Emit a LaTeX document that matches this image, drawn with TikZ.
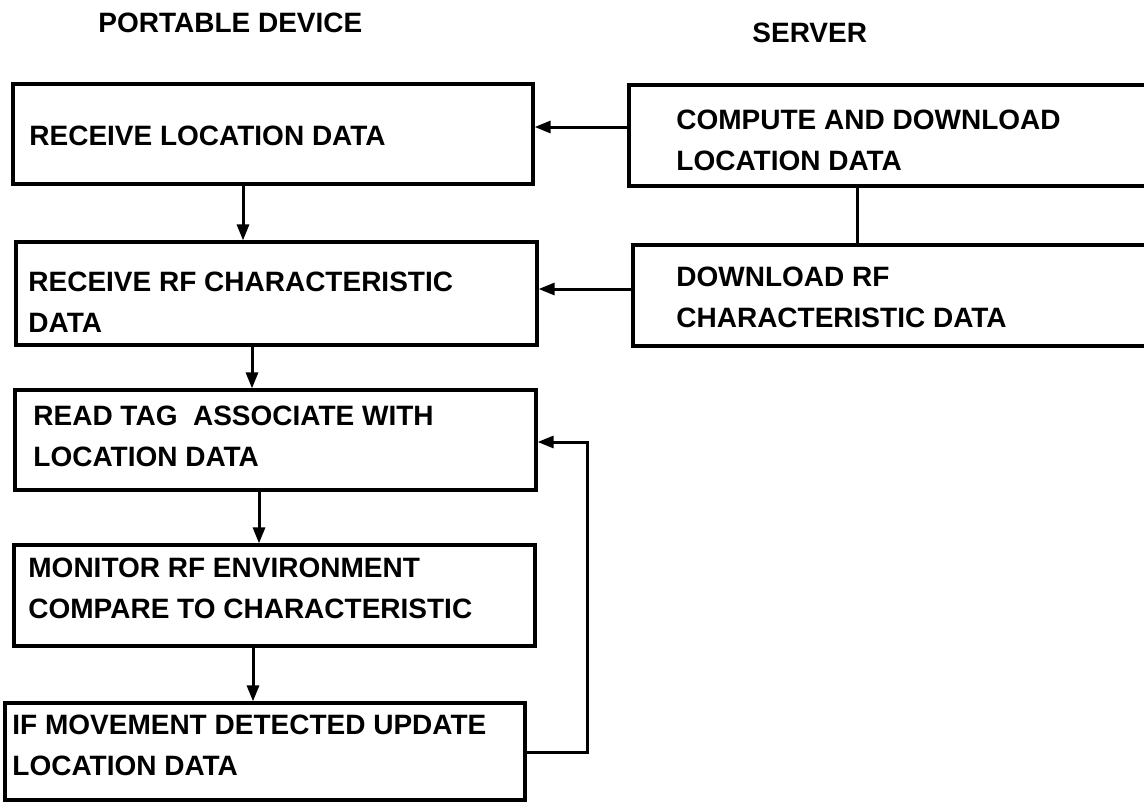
\documentclass[tikz,border=0pt]{standalone}
\usepackage{fontspec}
\setmainfont{Liberation Sans}
\usetikzlibrary{arrows.meta, positioning}

\begin{document}
\begin{tikzpicture}[x=0.5pt, y=-0.5pt,
    box/.style={draw, line width=1.6pt, rectangle, inner sep=0pt},
    txt/.style={anchor=west, align=left, inner sep=0pt, font=\bfseries\fontsize{14}{20.5}\selectfont},
    arr/.style={line width=1.5pt, -{Triangle[length=8pt, width=6pt]}},
    link/.style={line width=1.5pt}]
    \clip (0,0) rectangle (1144,803);
    \fill[white] (0,0) rectangle (1144,803);

    % Titles
    \node[txt] (tdev) at (98,23) {PORTABLE DEVICE};
    \node[txt] (tsrv) at (752,33) {SERVER};

    % Portable device steps
    \node[box, minimum width=260pt, minimum height=50pt] (b1) at (273,134) {};
    \node[box, minimum width=260.5pt, minimum height=51.5pt] (b2) at (276.5,293.5) {};
    \node[box, minimum width=260.5pt, minimum height=50pt] (b3) at (275.5,440) {};
    \node[box, minimum width=260.5pt, minimum height=50.5pt] (b4) at (274.5,595.5) {};
    \node[box, minimum width=260pt, minimum height=48.5pt] (b5) at (265,751.5) {};
    \node[txt] (l1) at (29,136) {RECEIVE LOCATION DATA};
    \node[txt] (l2) at (28,302) {RECEIVE RF CHARACTERISTIC\\DATA};
    \node[txt] (l3) at (33,436) {READ TAG\ \ ASSOCIATE WITH\\LOCATION DATA};
    \node[txt] (l4) at (28,588) {MONITOR RF ENVIRONMENT\\COMPARE TO CHARACTERISTIC};
    \node[txt] (l5) at (12,745) {IF MOVEMENT DETECTED UPDATE\\LOCATION DATA};

    % Server steps (cut off at the right edge)
    \node[box, minimum width=265.5pt, minimum height=50.5pt] (s1) at (894.5,135.5) {};
    \node[box, minimum width=263.5pt, minimum height=50.5pt] (s2) at (896.5,295.5) {};
    \node[txt] (r1) at (676,140) {COMPUTE AND DOWNLOAD\\LOCATION DATA};
    \node[txt] (r2) at (676,297) {DOWNLOAD RF\\CHARACTERISTIC DATA};

    % Connectors
    \draw[arr] (s1.west |- 0,127) -- (b1.east |- 0,127);
    \draw[arr] (s2.west |- 0,289) -- (b2.east |- 0,289);
    \draw[link] (s1.south -| 857,0) -- (s2.north -| 857,0);
    \draw[arr] (b1.south -| 243,0) -- (b2.north -| 243,0);
    \draw[arr] (b2.south -| 252,0) -- (b3.north -| 252,0);
    \draw[arr] (b3.south -| 259,0) -- (b4.north -| 259,0);
    \draw[arr] (b4.south -| 253,0) -- (b5.north -| 253,0);

    % Feedback loop
    \coordinate (fb) at (587,442);
    \draw[arr] (b5.east |- 0,752) -| (fb) -- (b3.east |- fb);
\end{tikzpicture}
\end{document}
